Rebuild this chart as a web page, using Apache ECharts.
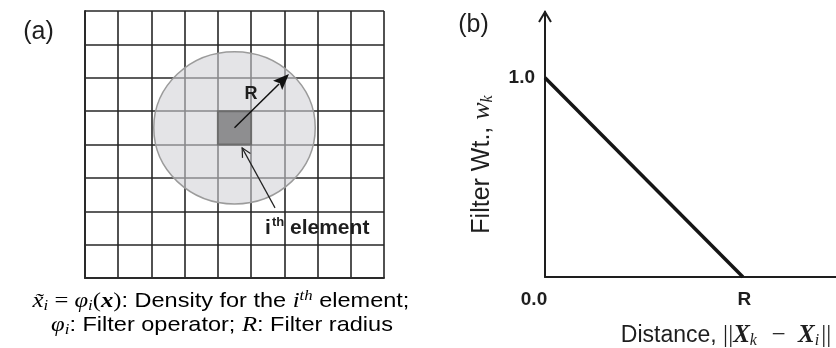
<!DOCTYPE html>
<html>
<head>
<meta charset="utf-8">
<script src="https://cdn.jsdelivr.net/npm/echarts@6/dist/echarts.min.js"></script>
<style>
html,body{margin:0;padding:0;background:#fff;}
#chart{width:836px;height:348px;}
</style>
</head>
<body>
<div id="chart"></div>
<script>
// ---- Panel (a): mesh and filter ----
const gridCols = 9;
const gridRows = 8;
const elementCell = [4, 4];            // lower-left corner of the i-th element
const filterCenter = [4.5, 4.5];
const filterRadius = [2.43, 2.28];
const radiusArrow = [[4.5, 4.5], [6.14, 6.11]];
const elementArrow = [[5.72, 2.1], [4.73, 3.9]];
const radiusLabelPos = [5.0, 5.51];
const elementLabelPos = [5.42, 1.5];

// ---- Panel (b): filter weight vs distance ----
const distance = [0, 1];
const filterWeight = [1, 0];
const xTickLabels = ['0.0', 'R'];
const yTickLabels = ['1.0'];
const xMax = 1.47;
const yMax = 1.33;

const SANS = '"Liberation Sans", Arial, sans-serif';
const SERIF = '"Liberation Serif", "DejaVu Serif", serif';
const INK = '#1e1e1e';

const chart = echarts.init(document.getElementById('chart'));

const option = {
  animation: false,
  backgroundColor: '#fff',
  grid: [
    {left: 85, top: 11, width: 299, height: 267, outerBoundsMode: 'none', containLabel: false},
    {left: 545, top: 12, width: 291, height: 265, outerBoundsMode: 'none', containLabel: false}
  ],
  xAxis: [
    {
      gridIndex: 0, type: 'value', min: 0, max: gridCols, interval: 1,
      axisLine: {show: true, lineStyle: {color: '#2a2a2a', width: 2}},
      axisTick: {show: false}, axisLabel: {show: false},
      splitLine: {show: true, lineStyle: {color: '#262626', width: 1.6}}
    },
    {
      gridIndex: 1, type: 'value', min: 0, max: xMax, interval: 1,
      axisLine: {show: true, onZero: false, lineStyle: {color: INK, width: 2}},
      axisTick: {show: false},
      splitLine: {show: false},
      axisLabel: {
        show: true, margin: 13,
        fontFamily: SANS, fontWeight: 'bold', fontSize: 19, color: INK,
        formatter: function (v) {
          if (v === 0) return '{z|' + xTickLabels[0] + '}';
          if (v === 1) return '{r|' + xTickLabels[1] + '}';
          return '';
        },
        rich: {
          z: {fontFamily: SANS, fontWeight: 'bold', fontSize: 19, color: INK, padding: [0, 22, 0, 0]},
          r: {fontFamily: SANS, fontWeight: 'bold', fontSize: 19, color: INK, padding: [0, 0, 0, 3]}
        }
      },
      name: '{t|Distance, }{n|||}{bx|X}{s|k}{n|\u2002−\u2002}{bx|X}{s|i}{n|||}',
      nameLocation: 'middle', nameGap: 45,
      nameTextStyle: {
        padding: [0, 0, 0, 71],
        rich: {
          t: {fontFamily: SANS, fontSize: 23, color: INK},
          n: {fontFamily: SERIF, fontSize: 25, color: INK},
          bx: {fontFamily: SERIF, fontSize: 25, fontStyle: 'italic', fontWeight: 'bold', color: INK},
          s: {fontFamily: SERIF, fontSize: 16, fontStyle: 'italic', color: INK, padding: [11, 2, 0, 0]}
        }
      }
    }
  ],
  yAxis: [
    {
      gridIndex: 0, type: 'value', min: 0, max: gridRows, interval: 1,
      axisLine: {show: true, lineStyle: {color: '#2a2a2a', width: 2}},
      axisTick: {show: false}, axisLabel: {show: false},
      splitLine: {show: true, lineStyle: {color: '#262626', width: 1.6}}
    },
    {
      gridIndex: 1, type: 'value', min: 0, max: yMax, interval: 1,
      axisLine: {show: true, onZero: false, lineStyle: {color: INK, width: 2}},
      axisTick: {show: false},
      splitLine: {show: false},
      axisLabel: {
        show: true, margin: 10,
        fontFamily: SANS, fontWeight: 'bold', fontSize: 19, color: INK,
        formatter: function (v) { return v === 1 ? yTickLabels[0] : ''; }
      },
      name: '{t|Filter Wt., }{m|w}{s|k}',
      nameLocation: 'middle', nameGap: 49, nameRotate: 90,
      nameTextStyle: {
        padding: [0, 40, 0, 0],
        rich: {
          t: {fontFamily: SANS, fontSize: 25, color: INK},
          m: {fontFamily: SERIF, fontSize: 26, fontStyle: 'italic', color: INK},
          s: {fontFamily: SERIF, fontSize: 16, fontStyle: 'italic', color: INK, padding: [12, 0, 0, 0]}
        }
      }
    }
  ],
  graphic: [
    {type: 'text', x: 38.5, y: 32, style: {text: '(a)', font: '25px ' + SANS, fill: INK, align: 'center', verticalAlign: 'middle'}},
    {type: 'text', x: 473.5, y: 25.5, style: {text: '(b)', font: '25px ' + SANS, fill: INK, align: 'center', verticalAlign: 'middle'}},
    {
      type: 'text', x: 221, y: 301, scaleX: 1.12,
      style: {
        text: '{m|x\u0303}{s|i}{n| = }{m|φ}{s|i}{n|(}{bx|x}{n|)}{t|: Density for the }{m|i}{u|th}{t| element;}',
        align: 'center', verticalAlign: 'middle',
        rich: {
          t: {fontFamily: SANS, fontSize: 21, color: INK},
          n: {fontFamily: SERIF, fontSize: 22, color: INK},
          m: {fontFamily: SERIF, fontSize: 22, fontStyle: 'italic', color: INK},
          bx: {fontFamily: SERIF, fontSize: 22, fontStyle: 'italic', fontWeight: 'bold', color: INK},
          s: {fontFamily: SERIF, fontSize: 15, fontStyle: 'italic', color: INK, padding: [10, 0, 0, 0]},
          u: {fontFamily: SERIF, fontSize: 15, fontStyle: 'italic', color: INK, padding: [0, 0, 10, 0]}
        }
      }
    },
    {
      type: 'text', x: 222, y: 325, scaleX: 1.12,
      style: {
        text: '{m|φ}{s|i}{t|: Filter operator; }{m|R}{t|: Filter radius}',
        align: 'center', verticalAlign: 'middle',
        rich: {
          t: {fontFamily: SANS, fontSize: 21, color: INK},
          m: {fontFamily: SERIF, fontSize: 22, fontStyle: 'italic', color: INK},
          s: {fontFamily: SERIF, fontSize: 15, fontStyle: 'italic', color: INK, padding: [10, 0, 0, 0]}
        }
      }
    }
  ],
  series: [
    // filter circle
    {
      type: 'custom', xAxisIndex: 0, yAxisIndex: 0, z: 2, silent: true,
      data: [filterCenter],
      renderItem: function (params, api) {
        const c = api.coord([api.value(0), api.value(1)]);
        const s = api.size([filterRadius[0], filterRadius[1]]);
        return {
          type: 'ellipse',
          shape: {cx: c[0], cy: c[1], rx: s[0], ry: s[1]},
          style: {fill: 'rgba(208,208,214,0.58)', stroke: '#9b9b9b', lineWidth: 1.5}
        };
      }
    },
    // i-th element cell
    {
      type: 'custom', xAxisIndex: 0, yAxisIndex: 0, z: 3, silent: true,
      data: [elementCell],
      renderItem: function (params, api) {
        const p0 = api.coord([api.value(0), api.value(1) + 1]);
        const p1 = api.coord([api.value(0) + 1, api.value(1)]);
        return {
          type: 'rect',
          shape: {x: p0[0], y: p0[1], width: p1[0] - p0[0], height: p1[1] - p0[1]},
          style: {fill: '#8e8e90', stroke: '#6c6c6c', lineWidth: 2}
        };
      }
    },
    // radius arrow (filled head)
    {
      type: 'custom', xAxisIndex: 0, yAxisIndex: 0, z: 4, silent: true,
      data: [[radiusArrow[0][0], radiusArrow[0][1], radiusArrow[1][0], radiusArrow[1][1]]],
      renderItem: function (params, api) {
        const a = api.coord([api.value(0), api.value(1)]);
        const b = api.coord([api.value(2), api.value(3)]);
        const dx = b[0] - a[0], dy = b[1] - a[1];
        const L = Math.sqrt(dx * dx + dy * dy);
        const ux = dx / L, uy = dy / L, nx = -uy, ny = ux;
        const hl = 16, hw = 6.5;
        const base = [b[0] - ux * hl, b[1] - uy * hl];
        return {
          type: 'group',
          children: [
            {type: 'line', shape: {x1: a[0], y1: a[1], x2: base[0] + ux * 2, y2: base[1] + uy * 2},
              style: {stroke: '#111', lineWidth: 1.5}},
            {type: 'polygon', shape: {points: [b, [base[0] + nx * hw, base[1] + ny * hw], [base[0] + ux * 3, base[1] + uy * 3], [base[0] - nx * hw, base[1] - ny * hw]]},
              style: {fill: '#111'}}
          ]
        };
      }
    },
    // element pointer arrow (open head)
    {
      type: 'custom', xAxisIndex: 0, yAxisIndex: 0, z: 4, silent: true,
      data: [[elementArrow[0][0], elementArrow[0][1], elementArrow[1][0], elementArrow[1][1]]],
      renderItem: function (params, api) {
        const a = api.coord([api.value(0), api.value(1)]);
        const b = api.coord([api.value(2), api.value(3)]);
        const dx = b[0] - a[0], dy = b[1] - a[1];
        const L = Math.sqrt(dx * dx + dy * dy);
        const ux = dx / L, uy = dy / L, nx = -uy, ny = ux;
        const hl = 9, hw = 4.5;
        const base = [b[0] - ux * hl, b[1] - uy * hl];
        return {
          type: 'group',
          children: [
            {type: 'line', shape: {x1: a[0], y1: a[1], x2: b[0], y2: b[1]}, style: {stroke: '#222', lineWidth: 1.2}},
            {type: 'polyline', shape: {points: [[base[0] + nx * hw, base[1] + ny * hw], b, [base[0] - nx * hw, base[1] - ny * hw]]},
              style: {stroke: '#222', lineWidth: 1.2, fill: null}}
          ]
        };
      }
    },
    // labels in panel (a)
    {
      type: 'custom', xAxisIndex: 0, yAxisIndex: 0, z: 5, silent: true,
      data: [[radiusLabelPos[0], radiusLabelPos[1], 0], [elementLabelPos[0], elementLabelPos[1], 1]],
      renderItem: function (params, api) {
        const p = api.coord([api.value(0), api.value(1)]);
        if (api.value(2) === 0) {
          return {type: 'text', x: p[0], y: p[1],
            style: {text: 'R', fontFamily: SANS, fontWeight: 'bold', fontSize: 18, fill: INK, align: 'center', verticalAlign: 'middle'}};
        }
        return {type: 'text', x: p[0], y: p[1],
          style: {
            text: '{b|i}{u|th}{b| element}', align: 'left', verticalAlign: 'middle',
            rich: {
              b: {fontFamily: SANS, fontWeight: 'bold', fontSize: 21, fill: INK, color: INK},
              u: {fontFamily: SANS, fontWeight: 'bold', fontSize: 13, fill: INK, color: INK, padding: [0, 0, 11, 1]}
            }
          }};
      }
    },
    // panel (b): filter weight line
    {
      type: 'line', xAxisIndex: 1, yAxisIndex: 1, z: 3,
      data: distance.map(function (d, i) { return [d, filterWeight[i]]; }),
      symbol: 'none', clip: false,
      lineStyle: {color: '#151515', width: 3.5, cap: 'butt'}
    },
    // panel (b): y-axis open arrowhead
    {
      type: 'custom', xAxisIndex: 1, yAxisIndex: 1, z: 4, silent: true, clip: false,
      data: [[0, yMax]],
      renderItem: function (params, api) {
        const t = api.coord([api.value(0), api.value(1)]);
        return {type: 'polyline',
          shape: {points: [[t[0] - 6, t[1] + 10], [t[0], t[1]], [t[0] + 6, t[1] + 10]]},
          style: {stroke: INK, lineWidth: 2, fill: null}};
      }
    }
  ]
};

chart.setOption(option);
</script>
</body>
</html>
